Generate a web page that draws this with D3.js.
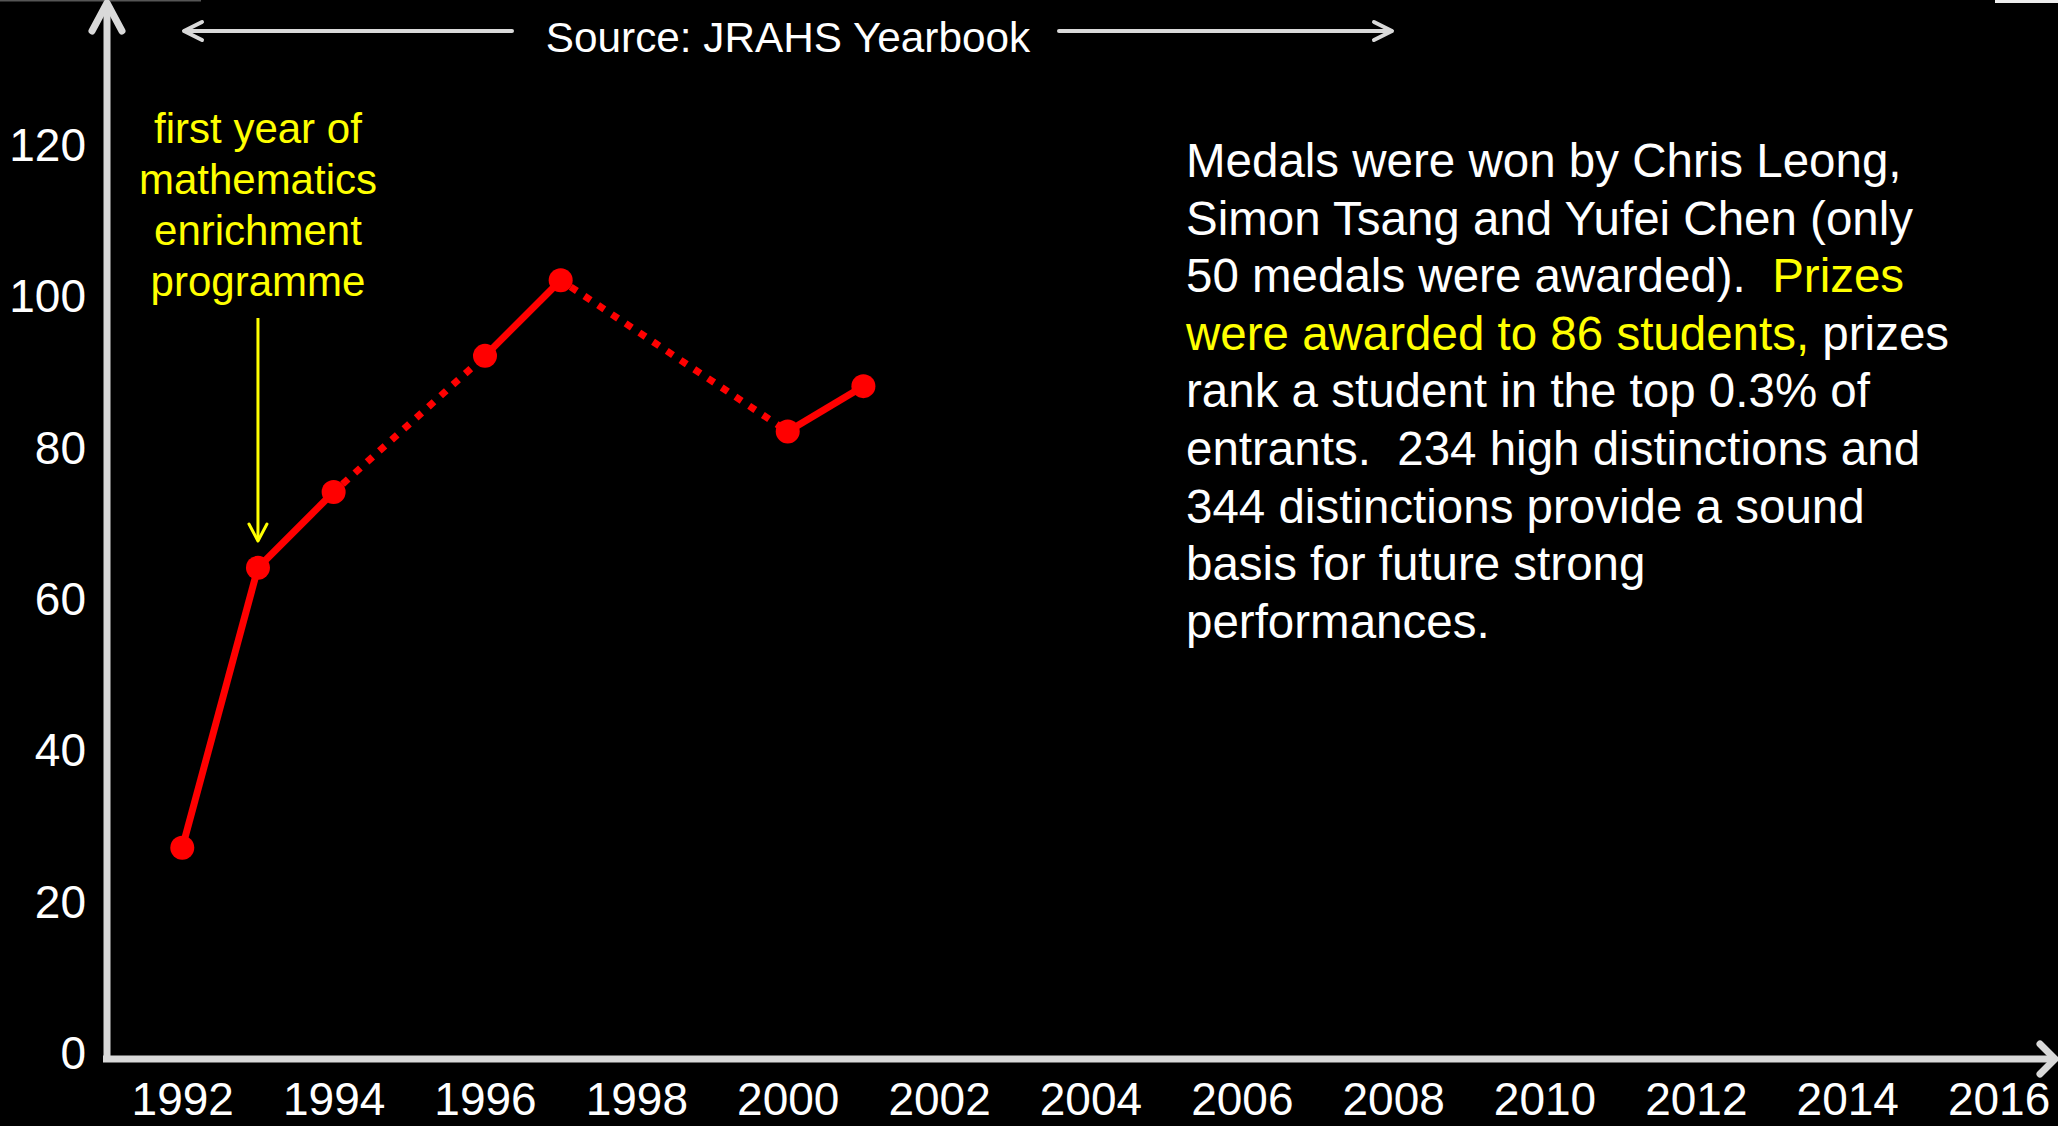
<!DOCTYPE html>
<html>
<head>
<meta charset="utf-8">
<script src="https://cdn.jsdelivr.net/npm/d3@7"></script>
<style>
  html, body { margin: 0; padding: 0; background: #000; }
  svg { display: block; }
  text { font-family: "Liberation Sans", Arial, sans-serif; white-space: pre; }
</style>
</head>
<body>
<svg id="chart" width="2058" height="1126"></svg>
<script>
// ---- data ----
const years = [1992, 1993, 1994, 1996, 1997, 2000, 2001];
const values = [27, 64, 74, 92, 102, 82, 88];
const xTickLabels = [1992, 1994, 1996, 1998, 2000, 2002, 2004, 2006, 2008, 2010, 2012, 2014, 2016];
const yTickLabels = [0, 20, 40, 60, 80, 100, 120];
const sourceText = "Source: JRAHS Yearbook";
const annotationLines = ["first year of", "mathematics", "enrichment", "programme"];
const annotationYear = 1993;
const paragraphLines = [
  [["Medals were won by Chris Leong,", "w"]],
  [["Simon Tsang and Yufei Chen (only", "w"]],
  [["50 medals were awarded).  ", "w"], ["Prizes", "y"]],
  [["were awarded to 86 students,", "y"], [" prizes", "w"]],
  [["rank a student in the top 0.3% of", "w"]],
  [["entrants.  234 high distinctions and", "w"]],
  [["344 distinctions provide a sound", "w"]],
  [["basis for future strong", "w"]],
  [["performances.", "w"]]
];

const W = 2058, H = 1126;
const AXIS = "#d9d9d9", RED = "#ff0000", YEL = "#ffff00";
const svg = d3.select("#chart");
svg.append("rect").attr("width", W).attr("height", H).attr("fill", "#000");

// slide artifacts at the top edge
svg.append("rect").attr("x", 0).attr("y", 0).attr("width", 201).attr("height", 1.5).attr("fill", "#555");
svg.append("rect").attr("x", 1995).attr("y", 0).attr("width", 63).attr("height", 3).attr("fill", "#eee");

const x = d3.scaleLinear().domain([1991, 2016]).range([106.6, 1998.6]);
const y = d3.scaleLinear().domain([0, 120]).range([1052, 144]);

const axisX0 = 107, axisY0 = 1059;

// ---- axes (lines with open arrowheads) ----
const ax = svg.append("g").attr("stroke", AXIS).attr("fill", "none")
  .attr("stroke-linecap", "round").attr("stroke-linejoin", "round");
ax.append("line").attr("x1", axisX0).attr("x2", axisX0).attr("y1", 4).attr("y2", axisY0 + 3).attr("stroke-width", 7).attr("stroke-linecap", "butt");
ax.append("path").attr("d", `M${axisX0 - 15},31 L${axisX0},3 L${axisX0 + 15},31`).attr("stroke-width", 7);
ax.append("line").attr("x1", axisX0 - 4).attr("x2", 2053).attr("y1", axisY0).attr("y2", axisY0).attr("stroke-width", 7).attr("stroke-linecap", "butt");
ax.append("path").attr("d", `M2040,1044 L2055,${axisY0} L2040,1074`).attr("stroke-width", 7);

// y tick labels
const yAxis = d3.axisLeft(y).tickValues(yTickLabels).tickSize(0).tickPadding(0).tickFormat(d3.format("d"));
const gy = svg.append("g").attr("transform", "translate(86,0)").call(yAxis);
gy.select(".domain").remove();
gy.selectAll("text").attr("fill", "#fff").attr("font-size", 46)
  .attr("font-family", '"Liberation Sans", Arial, sans-serif').attr("dy", "0.36em");

// x tick labels
const xAxis = d3.axisBottom(x).tickValues(xTickLabels).tickSize(0).tickPadding(0).tickFormat(d3.format("d"));
const gx = svg.append("g").attr("transform", "translate(0,1082)").call(xAxis);
gx.select(".domain").remove();
gx.selectAll("text").attr("fill", "#fff").attr("font-size", 46)
  .attr("font-family", '"Liberation Sans", Arial, sans-serif').attr("dy", "0.72em");

// ---- source header with arrows ----
const src = svg.append("g");
src.append("text").attr("x", 788).attr("y", 52).attr("text-anchor", "middle")
  .attr("fill", "#fff").attr("font-size", 42.3).text(sourceText);
const sa = src.append("g").attr("stroke", AXIS).attr("fill", "none").attr("stroke-width", 4)
  .attr("stroke-linecap", "round").attr("stroke-linejoin", "round");
sa.append("line").attr("x1", 185).attr("x2", 512).attr("y1", 31).attr("y2", 31);
sa.append("path").attr("d", "M202,22 L184,31 L202,40");
sa.append("line").attr("x1", 1059).attr("x2", 1391).attr("y1", 31).attr("y2", 31);
sa.append("path").attr("d", "M1374,22 L1392,31 L1374,40");

// ---- data line: solid for consecutive years, dotted across gaps ----
const pts = years.map((yr, i) => ({ yr, v: values[i] }));
const segs = d3.pairs(pts);
svg.append("g").selectAll("line").data(segs).join("line")
  .attr("x1", d => x(d[0].yr)).attr("y1", d => y(d[0].v))
  .attr("x2", d => x(d[1].yr)).attr("y2", d => y(d[1].v))
  .attr("stroke", RED).attr("stroke-width", 7)
  .attr("stroke-dasharray", d => (d[1].yr - d[0].yr > 1) ? "7.5,9" : null)
  .attr("stroke-dashoffset", d => (d[1].yr - d[0].yr > 1) ? -12 : null);
svg.append("g").selectAll("circle").data(pts).join("circle")
  .attr("cx", d => x(d.yr)).attr("cy", d => y(d.v)).attr("r", 12).attr("fill", RED);

// ---- yellow annotation ----
const ann = svg.append("g");
const annX = x(annotationYear);
ann.selectAll("text").data(annotationLines).join("text")
  .attr("x", annX).attr("y", (d, i) => 143 + i * 51)
  .attr("text-anchor", "middle").attr("fill", YEL).attr("font-size", 42).text(d => d);
ann.append("line").attr("x1", annX).attr("x2", annX).attr("y1", 318).attr("y2", 539)
  .attr("stroke", YEL).attr("stroke-width", 3);
ann.append("path").attr("d", `M${annX - 9},524 L${annX},541 L${annX + 9},524`)
  .attr("stroke", YEL).attr("stroke-width", 3).attr("fill", "none")
  .attr("stroke-linecap", "round").attr("stroke-linejoin", "round");

// ---- paragraph ----
const para = svg.append("g");
paragraphLines.forEach((line, i) => {
  const t = para.append("text").attr("x", 1186).attr("y", 177 + i * 57.6)
    .attr("font-size", 47.5).attr("fill", "#fff");
  line.forEach(([s, c]) => t.append("tspan").attr("fill", c === "y" ? YEL : "#fff").text(s));
});
</script>
</body>
</html>
